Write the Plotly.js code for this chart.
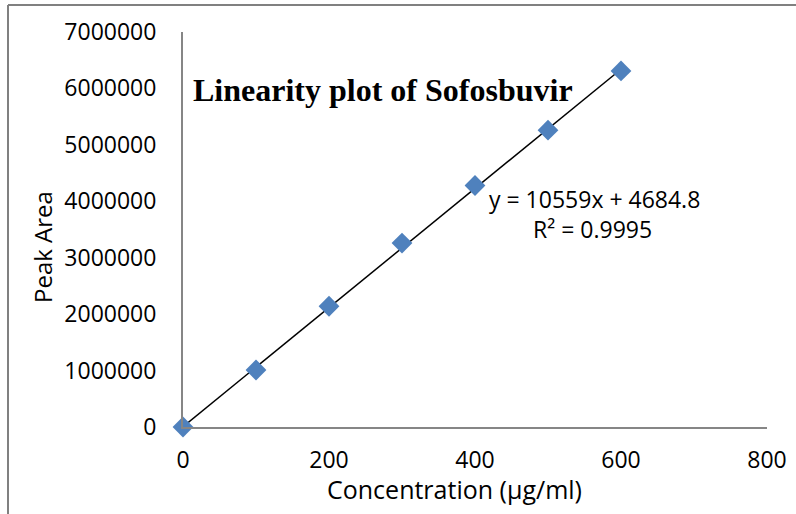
<!DOCTYPE html>
<html>
<head>
<meta charset="utf-8">
<script src="https://cdn.plot.ly/plotly-3.0.1.min.js"></script>
<style>
html,body{margin:0;padding:0;background:#fff;}
#chart{width:796px;height:514px;}
</style>
</head>
<body>
<div id="chart"></div>
<script>
// Data
const concentration = [0, 100, 200, 300, 400, 500, 600];
const peakArea = [0, 1010000, 2140000, 3260000, 4280000, 5260000, 6310000];
const slope = 10559;
const intercept = 4684.8;
const trendX = [0, 600];
const trendY = trendX.map(x => slope * x + intercept);
const xTicks = [0, 200, 400, 600, 800];
const yTicks = [0, 1000000, 2000000, 3000000, 4000000, 5000000, 6000000, 7000000];

const L = 183, R = 767, T = 32, B = 427;
const px = v => (v - L) / (R - L);
const py = v => (B - v) / (B - T);

const tickFont = {family: 'Open Sans, sans-serif', size: 23, color: '#000'};

const traces = [
  {
    x: trendX, y: trendY, type: 'scatter', mode: 'lines',
    line: {color: '#000', width: 1.5}, hoverinfo: 'skip', showlegend: false, cliponaxis: false
  },
  {
    x: concentration, y: peakArea, type: 'scatter', mode: 'markers', cliponaxis: false,
    marker: {symbol: 'diamond', size: 16, color: '#4F81BD'}, showlegend: false
  }
];

const layout = {
  width: 796, height: 514,
  margin: {l: L, r: 796 - R, t: T, b: 514 - B},
  paper_bgcolor: '#fff', plot_bgcolor: '#fff',
  showlegend: false,
  xaxis: {
    range: [0, 800], tickvals: xTicks, ticktext: xTicks.map(String),
    showgrid: false, zeroline: false, showline: true, linecolor: '#868686', linewidth: 2,
    ticks: '', tickfont: tickFont, ticklabelstandoff: 11
  },
  yaxis: {
    range: [0, 7000000], tickvals: yTicks, ticktext: yTicks.map(String),
    showgrid: false, zeroline: false, showline: true, linecolor: '#868686', linewidth: 2,
    ticks: '', tickfont: tickFont, ticklabelstandoff: 20
  },
  shapes: [
    {type: 'line', xref: 'paper', yref: 'paper', x0: px(8), x1: px(8), y0: py(5), y1: py(520), line: {color: '#808080', width: 2}},
    {type: 'line', xref: 'paper', yref: 'paper', x0: px(8), x1: px(800), y0: py(5), y1: py(5), line: {color: '#808080', width: 2}}
  ],
  annotations: [
    {text: 'Linearity plot of Sofosbuvir', xref: 'paper', yref: 'paper', x: px(191), y: py(90),
     xanchor: 'left', yanchor: 'middle', showarrow: false,
     font: {family: 'Liberation Serif, Times New Roman, serif', size: 32, color: '#000', weight: 'bold'}},
    {text: 'y = 10559x + 4684.8', xref: 'paper', yref: 'paper', x: px(594), y: py(199),
     xanchor: 'center', yanchor: 'middle', showarrow: false,
     font: {family: 'Open Sans, sans-serif', size: 23, color: '#000'}},
    {text: 'R² = 0.9995', xref: 'paper', yref: 'paper', x: px(592), y: py(229),
     xanchor: 'center', yanchor: 'middle', showarrow: false,
     font: {family: 'Open Sans, sans-serif', size: 23, color: '#000'}},
    {text: 'Concentration (µg/ml)', xref: 'paper', yref: 'paper', x: px(454), y: py(489),
     xanchor: 'center', yanchor: 'middle', showarrow: false,
     font: {family: 'Open Sans, sans-serif', size: 25, color: '#000'}},
    {text: 'Peak Area', xref: 'paper', yref: 'paper', x: px(42), y: py(247),
     xanchor: 'center', yanchor: 'middle', showarrow: false, textangle: -90,
     font: {family: 'Open Sans, sans-serif', size: 24, color: '#000'}}
  ]
};

Plotly.newPlot('chart', traces, layout, {displayModeBar: false, staticPlot: true});
</script>
</body>
</html>
